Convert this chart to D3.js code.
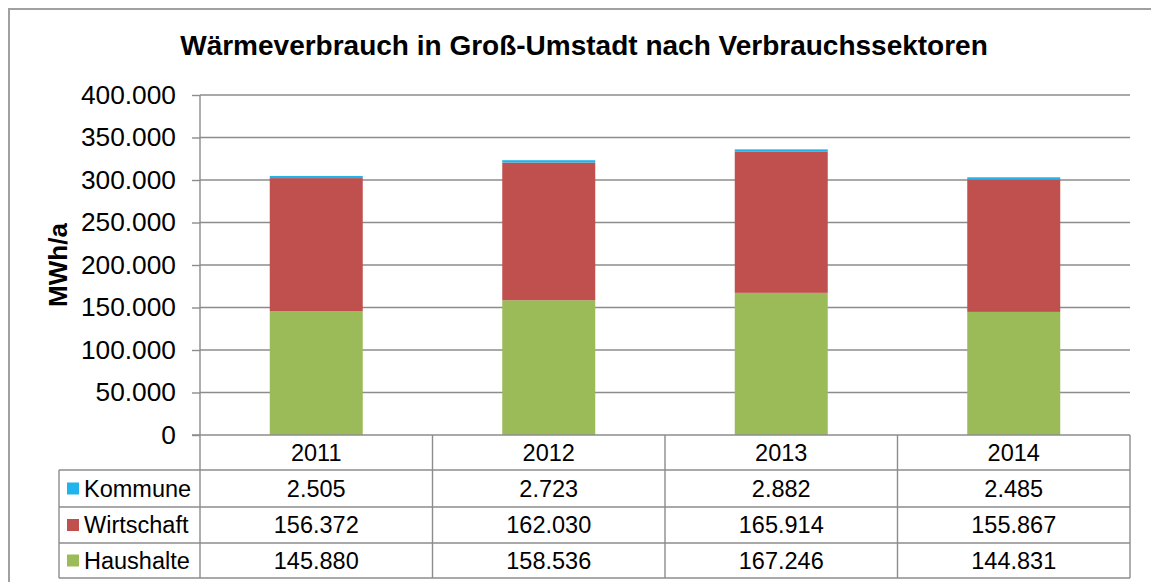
<!DOCTYPE html>
<html><head><meta charset="utf-8">
<script src="https://cdn.jsdelivr.net/npm/d3@7"></script>
<style>
html,body{margin:0;padding:0;background:#fff;}
svg{display:block;font-family:"Liberation Sans",Arial,sans-serif;}
</style></head>
<body>
<svg id="chart" width="1151" height="582"></svg>
<script>
const years = ["2011", "2012", "2013", "2014"];
const seriesNames = ["Haushalte", "Wirtschaft", "Kommune"];
const haushalte = [145880, 158536, 167246, 144831];
const wirtschaft = [156372, 162030, 165914, 155867];
const kommune = [2505, 2723, 2882, 2485];
const yTicks = [0, 50000, 100000, 150000, 200000, 250000, 300000, 350000, 400000];
const colors = {Haushalte: "#9BBB59", Wirtschaft: "#C0504D", Kommune: "#1FB4EC"};
const tableOrder = ["Kommune", "Wirtschaft", "Haushalte"];

const values = {Haushalte: haushalte, Wirtschaft: wirtschaft, Kommune: kommune};
const rows = years.map((y, i) => ({year: y, Haushalte: haushalte[i], Wirtschaft: wirtschaft[i], Kommune: kommune[i]}));

const loc = d3.formatLocale({decimal: ",", thousands: ".", grouping: [3], currency: ["", "€"]});
const fmt = loc.format(",d");

const svg = d3.select("#chart");
const grid = "#8c8c8c";

// outer chart border (cropped)
svg.append("rect").attr("x", 9).attr("y", 9).attr("width", 2000).attr("height", 2000)
  .attr("fill", "none").attr("stroke", "#a0a0a0").attr("stroke-width", 2);

const L = 200, R = 1130, T = 95, B = 435;
const x = d3.scaleBand().domain(years).range([L, R]).paddingInner(0.6).paddingOuter(0.3);
const xb = d3.scaleBand().domain(years).range([L, R]);
const y = d3.scaleLinear().domain([0, 400000]).range([B, T]);

// gridlines
svg.append("g").selectAll("line").data(yTicks.filter(t => t > 0)).join("line")
  .attr("x1", L).attr("x2", R).attr("y1", d => y(d)).attr("y2", d => y(d))
  .attr("stroke", grid).attr("stroke-width", 1.4);

// bars
const stack = d3.stack().keys(seriesNames)(rows);
svg.append("g").selectAll("g").data(stack).join("g")
  .attr("fill", d => colors[d.key])
  .selectAll("rect").data(d => d).join("rect")
  .attr("x", d => x(d.data.year)).attr("width", x.bandwidth())
  .attr("y", d => y(d[1])).attr("height", d => y(d[0]) - y(d[1]));

// y axis
const yAxis = d3.axisLeft(y).tickValues(yTicks).tickFormat(d => d === 0 ? "0" : fmt(d))
  .tickSize(8).tickPadding(16);
const ga = svg.append("g").attr("transform", `translate(${L},0)`).call(yAxis);
ga.select(".domain").remove();
ga.selectAll(".tick line").attr("stroke", grid).attr("stroke-width", 1.4);
ga.selectAll(".tick text").attr("font-size", 26.3).attr("fill", "#000")
  .attr("font-family", "'Liberation Sans',Arial,sans-serif");

// table geometry
const rowTop = [435, 470, 507, 543, 578];
const tblLeft = 59;
const tg = svg.append("g");
const lineStyle = sel => sel.attr("stroke", grid).attr("stroke-width", 1.4);

// horizontal lines
tg.append("line").attr("x1", L - 8).attr("x2", R).attr("y1", rowTop[0]).attr("y2", rowTop[0]).call(lineStyle);
for (let i = 1; i < rowTop.length; i++) {
  tg.append("line").attr("x1", tblLeft).attr("x2", R).attr("y1", rowTop[i]).attr("y2", rowTop[i]).call(lineStyle);
}
// vertical lines
tg.append("line").attr("x1", L).attr("x2", L).attr("y1", T).attr("y2", rowTop[4]).call(lineStyle);
years.forEach(yr => {
  const xe = xb(yr) + xb.bandwidth();
  tg.append("line").attr("x1", xe).attr("x2", xe).attr("y1", rowTop[0]).attr("y2", rowTop[4]).call(lineStyle);
});
tg.append("line").attr("x1", tblLeft).attr("x2", tblLeft).attr("y1", rowTop[1]).attr("y2", rowTop[4]).call(lineStyle);

// year labels
tg.selectAll("text.yr").data(years).join("text").attr("class", "yr")
  .attr("x", d => xb(d) + xb.bandwidth() / 2).attr("y", (rowTop[0] + rowTop[1]) / 2 + 8)
  .attr("text-anchor", "middle").attr("font-size", 23.5).text(d => d);

// rows
tableOrder.forEach((name, i) => {
  const cy = (rowTop[i + 1] + rowTop[i + 2]) / 2;
  tg.append("rect").attr("x", 67).attr("y", cy - 6).attr("width", 12).attr("height", 12).attr("fill", colors[name]);
  tg.append("text").attr("x", 84).attr("y", cy + 8).attr("font-size", 23.5).text(name);
  years.forEach((yr, j) => {
    tg.append("text").attr("x", xb(yr) + xb.bandwidth() / 2).attr("y", cy + 8)
      .attr("text-anchor", "middle").attr("font-size", 23.5).text(fmt(values[name][j]));
  });
});

// title
svg.append("text").attr("x", 584).attr("y", 55).attr("text-anchor", "middle")
  .attr("font-size", 28).attr("font-weight", "bold").text("Wärmeverbrauch in Groß-Umstadt nach Verbrauchssektoren");

// y axis title
svg.append("text").attr("transform", "translate(67,265) rotate(-90)").attr("text-anchor", "middle")
  .attr("font-size", 26).attr("font-weight", "bold").text("MWh/a");
</script>
</body></html>
